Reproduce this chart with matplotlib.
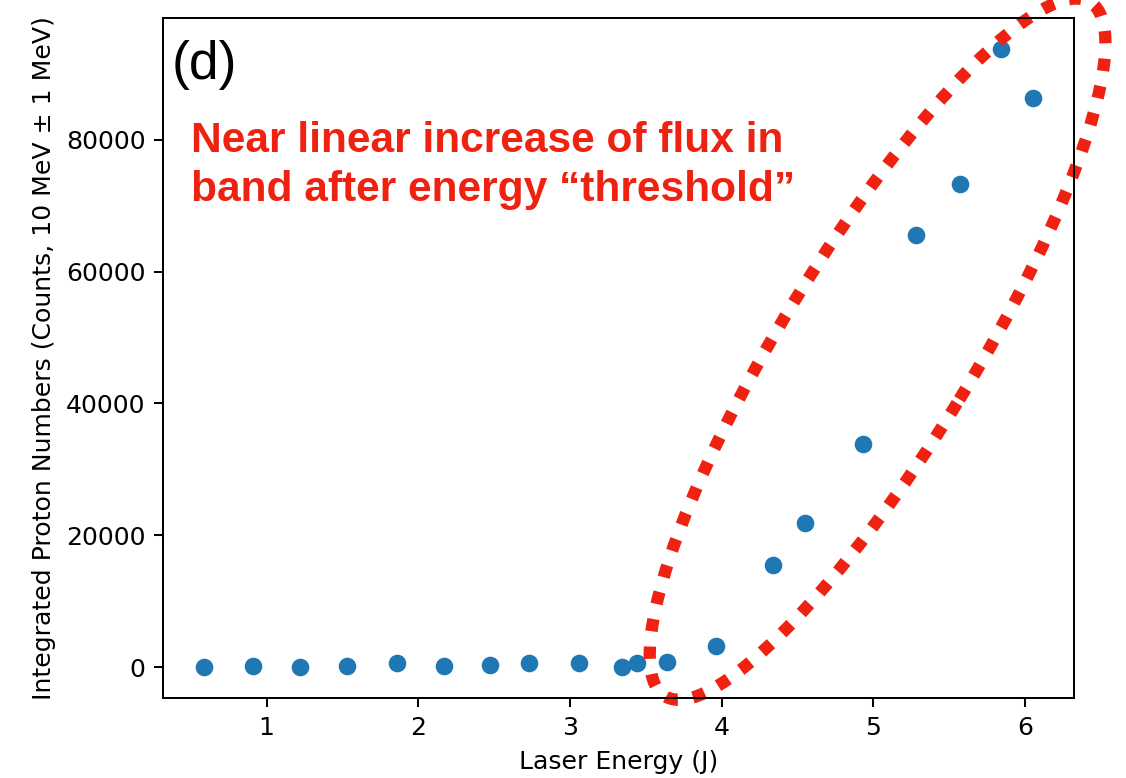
import matplotlib
matplotlib.use("Agg")
import matplotlib.pyplot as plt
from matplotlib.patches import Ellipse
from matplotlib.transforms import ScaledTranslation

laser_energy = [0.59, 0.91, 1.22, 1.53, 1.86, 2.17, 2.47, 2.73, 3.06, 3.34,
                3.44, 3.64, 3.96, 4.34, 4.55, 4.93, 5.28, 5.57, 5.84, 6.05]
proton_counts = [0, 150, 0, 150, 600, 150, 300, 600, 600, 0,
                 600, 760, 3200, 15500, 21900, 33900, 65500, 73300, 93800, 86300]

DPI = 181
fig = plt.figure(figsize=(1126 / DPI, 778 / DPI), dpi=DPI)
ax = fig.add_axes([0.1448, 0.1028, 0.9538 - 0.1448, 0.9769 - 0.1028])
ax.scatter(laser_energy, proton_counts, color="#1f77b4")
ax.set_xlabel("Laser Energy (J)")
ax.set_ylabel("Integrated Proton Numbers (Counts, 10 MeV \u00b1 1 MeV)")
ax.set_yticks([0, 20000, 40000, 60000, 80000])

ax.text(0.0098, 0.9676, "(d)", transform=ax.transAxes, fontsize=21.3,
        family="Liberation Sans", va="top", ha="left")
red = "#ef2212"
ax.text(0.031, 0.849, "Near linear increase of flux in\nband after energy \u201cthreshold\u201d",
        transform=ax.transAxes, fontsize=16.9, family="Liberation Sans",
        fontweight="bold", color=red, va="top", ha="left", linespacing=1.3)

ell = Ellipse((0, 0), width=4.497, height=1.061, angle=58.5, fill=False,
              edgecolor=red, linewidth=4.9, linestyle=(0, (1.0, 1.25)),
              transform=fig.dpi_scale_trans + ScaledTranslation(5.028, 48244, ax.transData),
              clip_on=False)
ell.set_capstyle("butt")
ax.add_artist(ell)

fig.savefig("out.png", dpi=DPI)
